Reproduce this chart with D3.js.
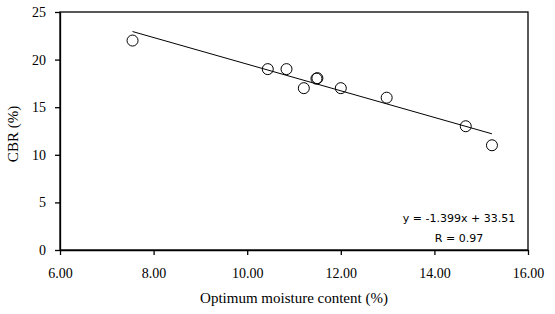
<!DOCTYPE html>
<html>
<head>
<meta charset="utf-8">
<script src="https://cdn.jsdelivr.net/npm/d3@7"></script>
<style>
  body { margin: 0; background: #fff; }
  svg { display: block; }
  text { font-family: "Liberation Serif", "Times New Roman", serif; fill: #000; }
</style>
</head>
<body>
<div id="chart"></div>
<script>
// podatki
const moisture = [7.55, 10.44, 10.84, 11.21, 11.48, 11.5, 12.0, 12.98, 14.67, 15.23];
const cbr = [22, 19, 19, 17, 18, 18.05, 17, 16, 13, 11];
const xTicks = [6, 8, 10, 12, 14, 16];
const yTicks = [0, 5, 10, 15, 20, 25];
const slope = -1.399;
const intercept = 33.51;
const eqLines = ["y = -1.399x + 33.51", "R = 0.97"];

const W = 555, H = 314;
const margin = { top: 12, right: 27, bottom: 64, left: 60 };
const width = W - margin.left - margin.right;
const height = H - margin.top - margin.bottom;
const serif = "'Liberation Serif', 'Times New Roman', serif";

const svg = d3.select("#chart").append("svg")
    .attr("width", W)
    .attr("height", H);

const g = svg.append("g")
    .attr("transform", `translate(${margin.left},${margin.top})`);

const x = d3.scaleLinear().domain([6, 16]).range([0, width]);
const y = d3.scaleLinear().domain([0, 25]).range([height, 0]);

// okvir
g.append("rect")
    .attr("width", width)
    .attr("height", height)
    .attr("fill", "none")
    .attr("stroke", "#000")
    .attr("stroke-width", 1.3);

// osi
const xAxis = g.append("g")
    .attr("transform", `translate(0,${height})`)
    .call(d3.axisBottom(x).tickValues(xTicks).tickFormat(d3.format(".2f")).tickSizeInner(5).tickSizeOuter(0).tickPadding(13));
const yAxis = g.append("g")
    .call(d3.axisLeft(y).tickValues(yTicks).tickSizeInner(5).tickSizeOuter(0).tickPadding(9));

[xAxis, yAxis].forEach(a => {
    a.attr("font-family", serif).attr("font-size", 14);
    a.select(".domain").attr("stroke", "#000").attr("stroke-width", 1.3);
    a.selectAll(".tick line").attr("stroke", "#000").attr("stroke-width", 1.3);
    a.selectAll(".tick text")
        .style("font-family", serif)
        .style("font-size", "14px")
        .attr("fill", "#000");
});

// trendna črta
const x0 = d3.min(moisture), x1 = d3.max(moisture);
g.append("line")
    .attr("x1", x(x0)).attr("y1", y(slope * x0 + intercept))
    .attr("x2", x(x1)).attr("y2", y(slope * x1 + intercept))
    .attr("stroke", "#000")
    .attr("stroke-width", 1);

// točke
g.append("g")
    .selectAll("circle")
    .data(moisture)
    .enter()
    .append("circle")
    .attr("cx", d => x(d))
    .attr("cy", (d, i) => y(cbr[i]))
    .attr("r", 5.5)
    .attr("fill", "none")
    .attr("stroke", "#000")
    .attr("stroke-width", 1);

// enačba
g.append("g")
    .selectAll("text")
    .data(eqLines)
    .enter()
    .append("text")
    .attr("x", 399)
    .attr("y", (d, i) => 210 + i * 20)
    .attr("text-anchor", "middle")
    .style("font-family", "'DejaVu Sans', Tahoma, sans-serif")
    .style("font-size", "11px")
    .text(d => d);

// oznake osi
svg.append("text")
    .attr("x", margin.left + width / 2)
    .attr("y", 303)
    .attr("text-anchor", "middle")
    .style("font-family", serif)
    .style("font-size", "15px")
    .text("Optimum moisture content (%)");

svg.append("text")
    .attr("transform", `translate(18,${margin.top + height / 2 + 3}) rotate(-90)`)
    .attr("text-anchor", "middle")
    .style("font-family", serif)
    .style("font-size", "15px")
    .text("CBR (%)");
</script>
</body>
</html>
